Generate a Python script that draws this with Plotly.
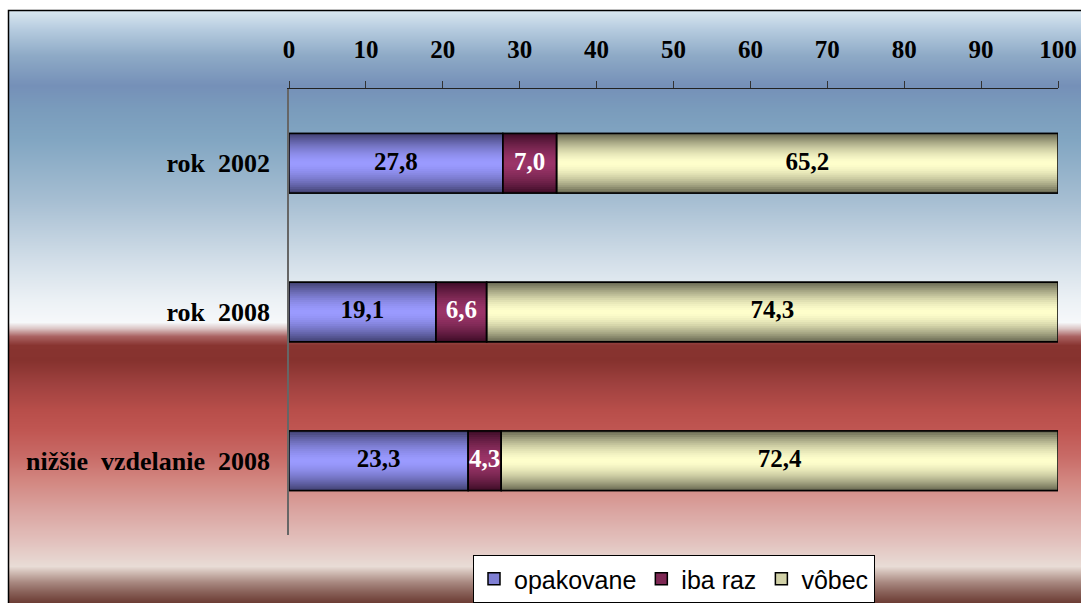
import base64
import struct
import zlib

import plotly.graph_objects as go

# data
categories = ["rok  2002", "rok  2008", "nižšie  vzdelanie  2008"]
series_names = ["opakovane", "iba raz", "vôbec"]
opakovane = [27.8, 19.1, 23.3]
iba_raz = [7.0, 6.6, 4.3]
vobec = [65.2, 74.3, 72.4]
x_ticks = [0, 10, 20, 30, 40, 50, 60, 70, 80, 90, 100]

# styles: (edge colour, centre colour, label colour)
bar_styles = [
    ((0x40, 0x40, 0x70), (0x9a, 0x9a, 0xff), "black"),
    ((0x3c, 0x0c, 0x26), (0x9a, 0x34, 0x68), "white"),
    ((0x66, 0x66, 0x50), (0xff, 0xff, 0xcc), "black"),
]

# pixel geometry of the 1081x603 picture
W, H = 1081, 603
PX_L, PX_R, PX_T, PX_B = 289, 1058, 89, 535
BAR_W = 0.40


def px_x(px):
    return (px - PX_L) / (PX_R - PX_L)


def px_y(py):
    return (PX_B - py) / (PX_B - PX_T)


def mix(c0, c1, t):
    return tuple(round(a + (b - a) * t) for a, b in zip(c0, c1))


def hexrgb(c):
    return "#%02x%02x%02x" % c


# ---------------- background gradient as a tiny png ----------------
bg_stops = [
    (11, "d8e6f0"), (30, "b4cade"), (55, "8eaac6"), (85, "7590b8"),
    (110, "7a9cbc"), (140, "82a6c2"), (200, "a6bed2"), (260, "d2dee8"),
    (300, "ecf1f5"), (322, "f6f8fa"), (328, "dcc6c6"), (336, "aa6262"),
    (345, "883430"), (360, "86322e"), (385, "a04240"), (410, "b84e4a"),
    (430, "c05652"), (455, "c86a66"), (480, "d28680"), (510, "daa4a0"),
    (540, "e2c0bc"), (566, "e8dcd6"), (572, "d0bcb4"), (582, "a88880"),
    (592, "886058"), (603, "6a3a32"),
]


def stop_rgb(s):
    return tuple(int(s[i:i + 2], 16) for i in (0, 2, 4))


rows = []
for py in range(11, 603):
    for (y0, c0), (y1, c1) in zip(bg_stops, bg_stops[1:]):
        if y0 <= py <= y1:
            rows.append(mix(stop_rgb(c0), stop_rgb(c1), (py - y0) / (y1 - y0)))
            break


def png_uri(pixels):
    raw = b"".join(b"\x00" + bytes(p) * 2 for p in pixels)

    def chunk(tag, data):
        body = tag + data
        return struct.pack(">I", len(data)) + body + struct.pack(">I", zlib.crc32(body) & 0xFFFFFFFF)

    png = b"\x89PNG\r\n\x1a\n"
    png += chunk(b"IHDR", struct.pack(">IIBBBBB", 2, len(pixels), 8, 2, 0, 0, 0))
    png += chunk(b"IDAT", zlib.compress(raw, 9))
    png += chunk(b"IEND", b"")
    return "data:image/png;base64," + base64.b64encode(png).decode()


fig = go.Figure()

# ---------------- bars ----------------
values = [opakovane, iba_raz, vobec]
bases = []
running = [0.0] * len(categories)
for vals in values:
    bases.append(list(running))
    running = [r + v for r, v in zip(running, vals)]

N_LAYERS = 15
for name, vals, base, (edge, centre, txt) in zip(series_names, values, bases, bar_styles):
    mid = mix(edge, centre, 0.7)
    # legend entry / base layer
    fig.add_trace(go.Bar(
        y=categories, x=vals, base=base, orientation="h", width=BAR_W,
        name=name, marker=dict(color=hexrgb(mid), line=dict(color="black", width=1.5)),
        hoverinfo="skip", showlegend=True,
    ))
    # shading layers, dark at edges, light in the middle
    for k in range(N_LAYERS):
        d = 1 - (k + 0.5) / N_LAYERS
        t = 1 - d ** 1.6
        fig.add_trace(go.Bar(
            y=categories, x=vals, base=base, orientation="h",
            width=BAR_W * (1 - k / N_LAYERS),
            marker=dict(color=hexrgb(mix(edge, centre, t)), line=dict(width=0)),
            hoverinfo="skip", showlegend=False,
        ))

# outlines on top
for vals, base in zip(values, bases):
    fig.add_trace(go.Bar(
        y=categories, x=vals, base=base, orientation="h", width=BAR_W,
        marker=dict(color="rgba(0,0,0,0)", line=dict(color="black", width=1.5)),
        showlegend=False,
    ))

serif = dict(family="Liberation Serif, Times New Roman, serif", size=25, color="black", weight="bold")

# value labels
for vals, base, (_, _, txt) in zip(values, bases, bar_styles):
    fig.add_trace(go.Scatter(
        y=categories, x=[b + v / 2 for b, v in zip(base, vals)],
        mode="text", text=[f"{v:.1f}".replace(".", ",") for v in vals],
        textfont=dict(serif, color=txt),
        showlegend=False, hoverinfo="skip", cliponaxis=False,
    ))

# ---------------- layout ----------------
fig.update_layout(
    width=W, height=H,
    barmode="overlay",
    paper_bgcolor="white",
    plot_bgcolor="rgba(0,0,0,0)",
    margin=dict(l=PX_L, r=W - PX_R, t=PX_T, b=H - PX_B, pad=0, autoexpand=False),
    xaxis=dict(
        side="top", range=[0, 100], tickvals=x_ticks, showgrid=False, zeroline=False,
        showline=True, linecolor="#222222", linewidth=1,
        ticks="outside", ticklen=7, tickcolor="#333333", tickwidth=1,
        tickfont=serif, ticklabelstandoff=13, fixedrange=True, automargin=False,
    ),
    yaxis=dict(
        autorange="reversed", showgrid=False, zeroline=False,
        showline=True, linecolor="#666666", linewidth=1.5,
        ticks="", tickfont=dict(serif, size=26), ticklabelstandoff=12,
        fixedrange=True, automargin=False,
    ),
    legend=dict(
        orientation="h", x=px_x(473), y=px_y(555), xanchor="left", yanchor="top",
        bgcolor="white", bordercolor="black", borderwidth=1,
        font=dict(family="Liberation Sans, Arial, sans-serif", size=25, color="black"),
        itemclick=False, itemdoubleclick=False,
    ),
    images=[dict(
        source=png_uri(rows), xref="paper", yref="paper",
        x=px_x(9), y=px_y(11), sizex=px_x(W) - px_x(9), sizey=px_y(11) - px_y(H),
        xanchor="left", yanchor="top", sizing="stretch", layer="below",
    )],
    shapes=[dict(
        type="rect", xref="paper", yref="paper",
        x0=px_x(8.5), x1=px_x(W + 5), y0=px_y(10.5), y1=px_y(H + 5),
        line=dict(color="black", width=1.5), fillcolor="rgba(0,0,0,0)", layer="above",
    )],
    showlegend=True,
)

fig.write_html(
    "out.html",
    config={"displayModeBar": False},
    post_script="document.body.style.margin='0';",
)
